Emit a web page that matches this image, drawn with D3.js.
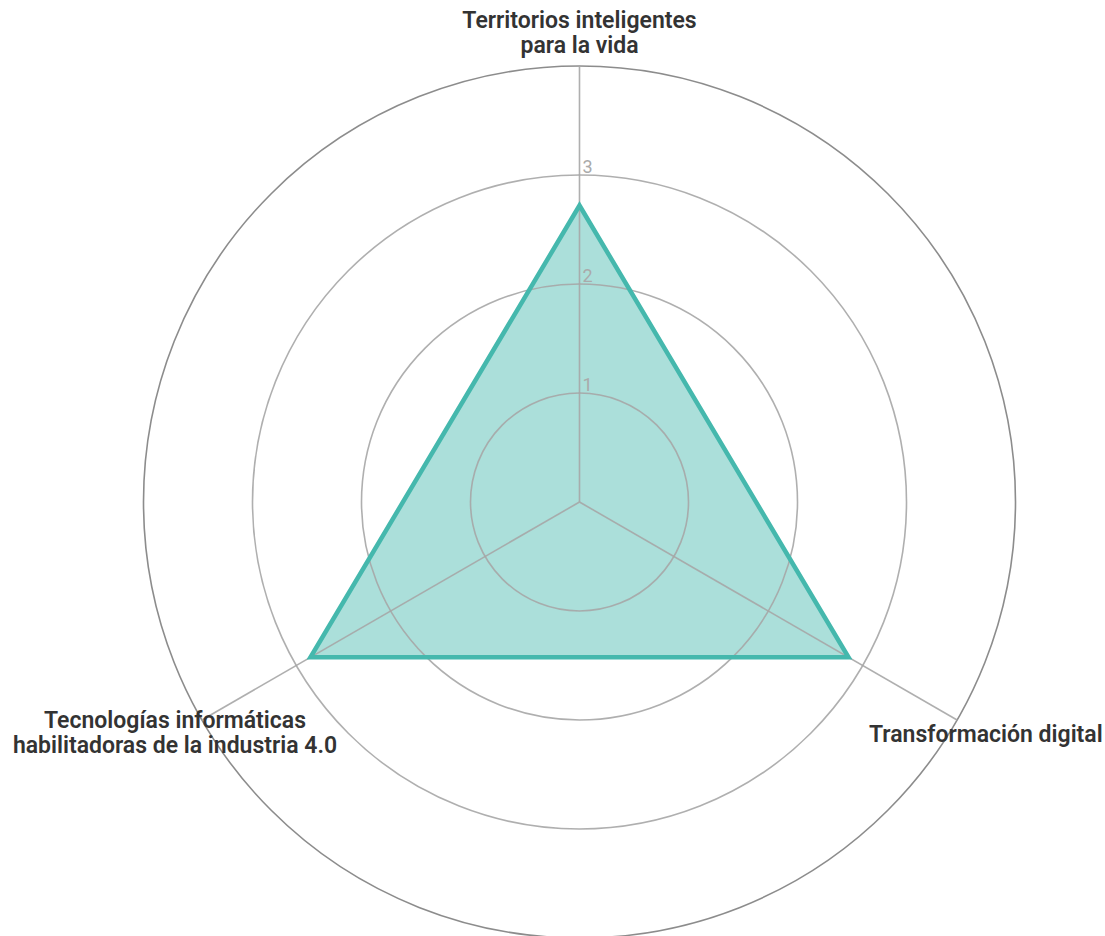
<!DOCTYPE html>
<html><head><meta charset="utf-8">
<script src="https://cdn.jsdelivr.net/npm/d3@7"></script>
<style>body{margin:0;background:#fff}svg{display:block}</style>
</head><body>
<svg id="c" width="1105" height="936"></svg>
<script>
const categories = [
  ["Territorios inteligentes", "para la vida"],
  ["Transformación digital"],
  ["Tecnologías informáticas", "habilitadoras de la industria 4.0"]
];
const values = [2.72, 2.85, 2.85];
const ticks = [1, 2, 3];
const rings = [1, 2, 3, 4];
const maxValue = 4;

const svg = d3.select("#c");
const cx = 579.5, cy = 502, R = 436;
const g = svg.append("g").attr("transform", `translate(${cx},${cy})`);
const r = d3.scaleLinear().domain([0, maxValue]).range([0, R]);
const angle = d3.scaleLinear().domain([0, categories.length]).range([0, 2 * Math.PI]);
const pt = (i, v) => [r(v) * Math.sin(angle(i)), -r(v) * Math.cos(angle(i))];

const line = d3.lineRadial().angle((d, i) => angle(i)).radius(d => r(d)).curve(d3.curveLinearClosed);
g.append("path").datum(values).attr("d", line)
  .attr("fill", "#45b8ad").attr("fill-opacity", 0.45).attr("stroke", "none");

g.selectAll("circle.ring").data(rings).join("circle")
  .attr("r", d => r(d)).attr("fill", "none")
  .attr("stroke", d => d === maxValue ? "#7f7f7f" : "#a6a6a6")
  .attr("stroke-width", 1.6).attr("stroke-opacity", 0.9);

g.selectAll("line.axis").data(categories).join("line")
  .attr("x1", 0).attr("y1", 0)
  .attr("x2", (d, i) => pt(i, maxValue)[0]).attr("y2", (d, i) => pt(i, maxValue)[1])
  .attr("stroke", "#a6a6a6").attr("stroke-width", 1.6).attr("stroke-opacity", 0.9);

g.append("path").datum(values).attr("d", line)
  .attr("fill", "none").attr("stroke", "#45b8ad").attr("stroke-width", 4.5)
  .attr("stroke-linejoin", "miter");

g.selectAll("text.tick").data(ticks).join("text")
  .attr("x", 3).attr("y", d => -r(d) - 2)
  .attr("fill", "#aaaaaa").attr("font-family", "Roboto, sans-serif").attr("font-size", 18)
  .text(d => d);

const labelPos = [
  {x: 0, y: -R - 38, anchor: "middle"},
  {x: 289.5, y: 240, anchor: "start"},
  {x: -404.5, y: 226, anchor: "middle"}
];
categories.forEach((lines, i) => {
  const p = labelPos[i];
  const t = g.append("text").attr("text-anchor", p.anchor)
    .attr("font-family", "Roboto, sans-serif").attr("font-weight", 600)
    .attr("font-size", 23).attr("fill", "#333333")
    .attr("transform", `translate(${p.x},${p.y})`);
  lines.forEach((s, j) => t.append("tspan").attr("x", 0).attr("y", j * 25).text(s));
});
</script>
</body></html>
